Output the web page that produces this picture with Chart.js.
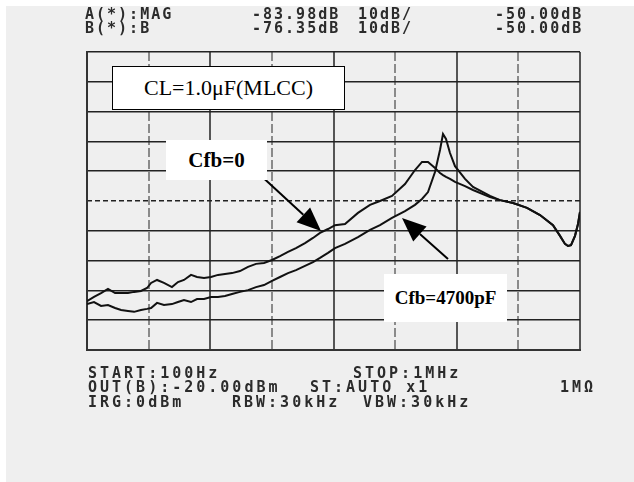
<!DOCTYPE html>
<html>
<head>
<meta charset="utf-8">
<title>Cfb frequency response</title>
<script src="https://cdn.jsdelivr.net/npm/chart.js"></script>
<style>
  body { margin: 0; background: #ffffff; }
  #wrap { position: relative; width: 634px; height: 482px; overflow: hidden; }
  #panel { position: absolute; left: 6px; top: 6px; right: 0; bottom: 0; background: #efefef; }
  canvas { position: absolute; left: 0; top: 0; }
  .lcd { position: absolute; font-family: "DejaVu Sans Mono", monospace; font-weight: bold;
         font-size: 15px; line-height: 15px; letter-spacing: 2px; color: #2b2b2b; white-space: pre; }
  .foot { letter-spacing: 3px; }
  .note { position: absolute; background: #ffffff; font-family: "Liberation Serif", "Times New Roman", serif;
          color: #000; display: flex; align-items: center; justify-content: center; }
</style>
</head>
<body>
<div id="wrap">
  <div id="panel"></div>
  <canvas id="chart" width="634" height="482"></canvas>

  <!-- analyzer header -->
  <div class="lcd" style="left:85px; top:7px;">A(*):MAG</div>
  <div class="lcd" style="left:252px; top:7px;">-83.98dB</div>
  <div class="lcd" style="left:358px; top:7px;">10dB/</div>
  <div class="lcd" style="left:495px; top:7px;">-50.00dB</div>
  <div class="lcd" style="left:85px; top:21px;">B(*):B</div>
  <div class="lcd" style="left:252px; top:21px;">-76.35dB</div>
  <div class="lcd" style="left:358px; top:21px;">10dB/</div>
  <div class="lcd" style="left:495px; top:21px;">-50.00dB</div>

  <!-- analyzer footer -->
  <div class="lcd foot" style="left:88px; top:366px;">START:100Hz</div>
  <div class="lcd foot" style="left:353px; top:366px;">STOP:1MHz</div>
  <div class="lcd foot" style="left:88px; top:380px;">OUT(B):-20.00dBm</div>
  <div class="lcd foot" style="left:310px; top:380px;">ST:AUTO x1</div>
  <div class="lcd foot" style="left:560px; top:380px;">1MΩ</div>
  <div class="lcd foot" style="left:88px; top:395px;">IRG:0dBm</div>
  <div class="lcd foot" style="left:232px; top:395px;">RBW:30kHz</div>
  <div class="lcd foot" style="left:363px; top:395px;">VBW:30kHz</div>

  <!-- labels -->
  <div class="note" style="left:112px; top:66px; width:231px; height:42px; border:1px solid #000; font-size:22px;">CL=1.0μF(MLCC)</div>
  <div class="note" style="left:166px; top:140px; width:101px; height:40px; font-size:21px; font-weight:bold;">Cfb=0</div>
  <div class="note" style="left:384px; top:274px; width:123px; height:48px; font-size:19px; font-weight:bold;">Cfb=4700pF</div>
</div>

<script>
// sweep points, Hz (100Hz .. 1MHz)
var freqHz = [100, 114, 130, 148, 169, 189, 215, 241, 274, 307,
  331, 370, 421, 489, 547, 612, 698, 781, 890, 1014,
  1156, 1317, 1501, 1743, 2025, 2351, 2730, 3170, 3681, 4274,
  4963, 5872, 6818, 7773, 9025, 10285, 12400, 15800, 19780, 23840,
  29830, 38030, 45840, 52250, 58450, 66620, 73130, 77340, 81800, 88140,
  96790, 116700, 135500, 186100, 224400, 286100, 371500, 473700, 603900, 688300,
  755400, 798900, 845300, 910900, 963400, 1000000];

// Cfb=0 trace, dB
var cfb0Db = [-83.6, -82.2, -80.9, -79.5, -80.9, -80.9, -80.9, -80.5, -80.2, -79.2,
  -77.5, -76.5, -77.5, -78.9, -77.2, -76.5, -74.8, -75.5, -75.8, -75.5,
  -74.8, -74.5, -74.2, -73.5, -72.1, -71.1, -70.8, -69.8, -68.5, -67.1,
  -65.8, -64.1, -62.4, -60.7, -59.4, -58.1, -57.7, -54.0, -51.3, -50.0,
  -48.3, -44.3, -39.6, -36.9, -36.9, -38.9, -40.6, -41.3, -41.9, -42.6,
  -43.6, -45.0, -46.3, -48.7, -49.7, -50.7, -52.3, -54.7, -58.1, -61.7,
  -64.4, -65.1, -64.8, -61.7, -57.7, -53.7];

// Cfb=4700pF trace, dB
var cfb4700Db = [-84.6, -83.9, -85.2, -84.9, -85.9, -86.6, -86.9, -87.2, -86.6, -86.2,
  -85.9, -84.2, -84.9, -84.6, -83.9, -83.2, -83.9, -82.9, -82.9, -82.2,
  -82.2, -81.9, -81.2, -80.5, -79.9, -78.9, -78.2, -76.8, -75.5, -74.2,
  -73.2, -71.8, -70.5, -69.1, -67.4, -65.8, -64.4, -62.1, -59.7, -58.1,
  -55.7, -53.4, -51.3, -49.3, -47.0, -40.3, -32.9, -27.5, -29.2, -33.9,
  -38.3, -42.6, -45.3, -48.3, -49.7, -50.7, -52.3, -54.7, -58.1, -61.7,
  -64.4, -65.1, -64.8, -61.7, -57.7, -53.7];

// grid divisions
var decadeTicks = [100, 1000, 10000, 100000, 1000000];
var halfDecadeTicks = [316.2, 3162, 31623, 316228];
var refLevelDb = -50;

// arrows: [tail Hz, tail dB, tip Hz, tip dB]
var arrows = [
  [2393, -40.3, 7916, -60.1],
  [84940, -69.5, 35960, -55.7]
];

function toPoints(vals) {
  var pts = [];
  for (var i = 0; i < freqHz.length; i++) {
    pts.push({ x: freqHz[i], y: vals[i] });
  }
  return pts;
}

function fixedTicks(list) {
  return function(scale) {
    scale.ticks = list.map(function(v) { return { value: v }; });
  };
}

var arrowPlugin = {
  id: 'arrows',
  afterDatasetsDraw: function(chart) {
    var ctx = chart.ctx, sx = chart.scales.x, sy = chart.scales.y;
    ctx.save();
    ctx.strokeStyle = '#000';
    ctx.fillStyle = '#000';
    ctx.lineWidth = 2;
    arrows.forEach(function(a) {
      var x0 = sx.getPixelForValue(a[0]), y0 = sy.getPixelForValue(a[1]);
      var x1 = sx.getPixelForValue(a[2]), y1 = sy.getPixelForValue(a[3]);
      var ang = Math.atan2(y1 - y0, x1 - x0);
      var len = 24, half = 10;
      var bx = x1 - len * Math.cos(ang), by = y1 - len * Math.sin(ang);
      ctx.beginPath();
      ctx.moveTo(x0, y0);
      ctx.lineTo(bx, by);
      ctx.stroke();
      ctx.beginPath();
      ctx.moveTo(x1, y1);
      ctx.lineTo(bx + half * Math.sin(ang), by - half * Math.cos(ang));
      ctx.lineTo(bx - half * Math.sin(ang), by + half * Math.cos(ang));
      ctx.closePath();
      ctx.fill();
    });
    ctx.restore();
  }
};

var ctx = document.getElementById('chart').getContext('2d');
var chart = new Chart(ctx, {
  type: 'line',
  data: {
    datasets: [{
      label: 'Cfb=0',
      data: toPoints(cfb0Db),
      borderColor: '#111',
      borderWidth: 2,
      pointRadius: 0,
      tension: 0
    }, {
      label: 'Cfb=4700pF',
      data: toPoints(cfb4700Db),
      borderColor: '#111',
      borderWidth: 2,
      pointRadius: 0,
      tension: 0
    }]
  },
  options: {
    responsive: false,
    animation: false,
    layout: { padding: { left: 87, right: 54, top: 52, bottom: 132 } },
    plugins: { legend: { display: false }, tooltip: { enabled: false } },
    scales: {
      x: {
        type: 'logarithmic', min: 100, max: 1000000,
        afterBuildTicks: fixedTicks(decadeTicks),
        ticks: { display: false },
        grid: { color: '#555', lineWidth: 2, drawTicks: false },
        border: { display: true, color: '#333', width: 2 }
      },
      x2: {
        type: 'logarithmic', min: 100, max: 1000000, position: 'bottom',
        afterBuildTicks: fixedTicks(halfDecadeTicks),
        ticks: { display: false },
        grid: { color: '#8a8a8a', lineWidth: 2, drawTicks: false },
        border: { display: false, dash: [9, 3] }
      },
      y: {
        min: -100, max: 0,
        ticks: { display: false, stepSize: 10 },
        grid: {
          color: function(c) { return c.tick && c.tick.value === refLevelDb ? 'rgba(0,0,0,0)' : '#222'; },
          lineWidth: 1.5, drawTicks: false
        },
        border: { display: true, color: '#333', width: 2 }
      },
      y2: {
        min: -100, max: 0, position: 'left',
        afterBuildTicks: fixedTicks([refLevelDb]),
        ticks: { display: false },
        grid: { color: '#222', lineWidth: 1.5, drawTicks: false },
        border: { display: false, dash: [5, 3] }
      }
    }
  },
  plugins: [arrowPlugin]
});
</script>
</body>
</html>
